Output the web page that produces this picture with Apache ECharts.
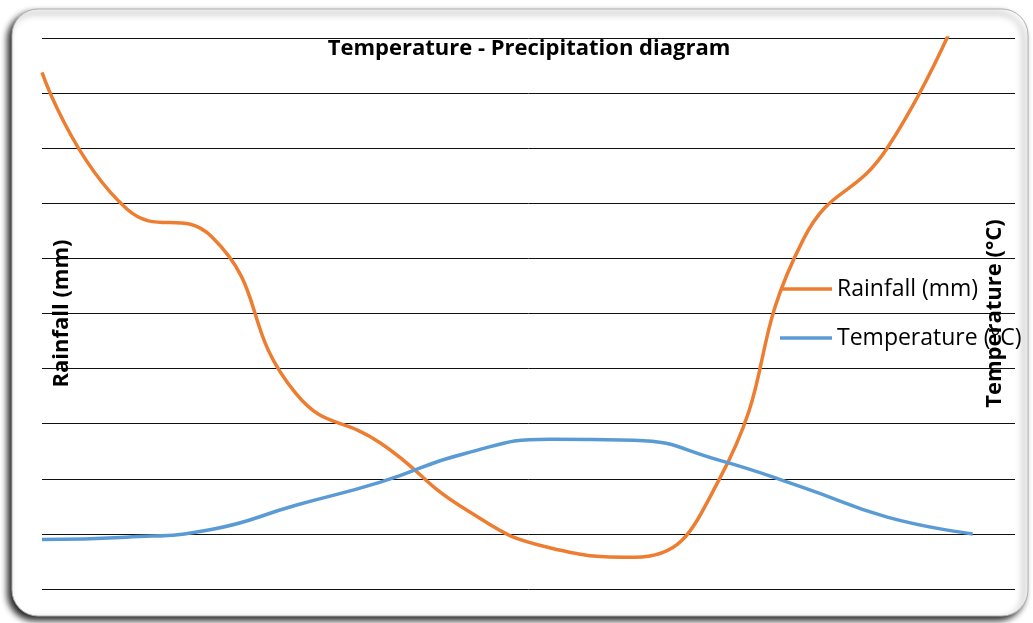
<!DOCTYPE html>
<html>
<head>
<meta charset="utf-8">
<script src="https://cdn.jsdelivr.net/npm/echarts@6/dist/echarts.min.js"></script>
<style>
  html, body { margin: 0; padding: 0; background: #fff; }
  #main { width: 1033px; height: 623px; }
</style>
</head>
<body>
<div id="main"></div>
<script>
// months, one point each (x axis is hidden)
var months = ['Jan', 'Feb', 'Mar', 'Apr', 'May', 'Jun', 'Jul', 'Aug', 'Sep', 'Oct', 'Nov', 'Dec'];
// rainfall in mm (left axis, 0-200)
var rainfall = [187.5, 138, 128, 71, 53, 29, 15, 11.5, 39.5, 127, 160.5, 222];
// temperature in degC (right axis, 0-50)
var temperature = [4.5, 4.7, 5.4, 7.6, 9.7, 12.3, 13.6, 13.5, 11.7, 9.2, 6.5, 5.0];

var font = '"Open Sans", "Noto Sans", sans-serif';

function pairs(arr) {
  return arr.map(function (v, i) { return [i, v]; });
}

var myChart = echarts.init(document.getElementById('main'));
myChart.setOption({
  animation: false,
  backgroundColor: '#fff',
  graphic: {
    elements: [{
      type: 'rect',
      z: -10,
      shape: { x: 12, y: 9, width: 1016, height: 607, r: 26 },
      style: {
        fill: '#fff',
        stroke: '#b0b0b0',
        lineWidth: 1,
        shadowBlur: 6,
        shadowOffsetX: -4,
        shadowOffsetY: 4,
        shadowColor: 'rgba(0,0,0,0.85)'
      }
    }]
  },
  title: {
    text: 'Temperature - Precipitation diagram',
    left: 524,
    top: 33,
    textAlign: 'center',
    textStyle: { fontFamily: font, fontSize: 22, fontWeight: 'bold', color: '#000' }
  },
  legend: {
    orient: 'vertical',
    left: 780,
    top: 275,
    padding: 0,
    icon: 'rect',
    itemWidth: 52,
    itemHeight: 3.5,
    itemGap: 21,
    textStyle: { fontFamily: font, fontSize: 23, lineHeight: 28, color: '#000' },
    data: ['Rainfall (mm)', 'Temperature (°C)']
  },
  grid: { left: 42, top: 38, right: 18, bottom: 34 },
  xAxis: {
    type: 'value',
    min: 0,
    max: 11.5,
    show: false
  },
  yAxis: [{
    type: 'value',
    min: 0,
    max: 200,
    interval: 20,
    name: 'Rainfall (mm)',
    nameLocation: 'middle',
    nameRotate: 90,
    nameGap: -31,
    nameTextStyle: { fontFamily: font, fontSize: 22, fontWeight: 'bold', color: '#000' },
    axisLine: { show: false },
    axisTick: { show: false },
    axisLabel: { show: false },
    splitLine: { lineStyle: { color: '#111', width: 1 } }
  }, {
    type: 'value',
    min: 0,
    max: 50,
    interval: 5,
    name: 'Temperature (°C)',
    nameLocation: 'middle',
    nameRotate: 90,
    nameGap: -31,
    nameTextStyle: { fontFamily: font, fontSize: 22, fontWeight: 'bold', color: '#000' },
    axisLine: { show: false },
    axisTick: { show: false },
    axisLabel: { show: false },
    splitLine: { show: false }
  }],
  series: [{
    name: 'Rainfall (mm)',
    type: 'line',
    yAxisIndex: 0,
    smooth: 0.5,
    symbol: 'none',
    clip: true,
    lineStyle: { color: '#ED7D31', width: 3.5 },
    itemStyle: { color: '#ED7D31' },
    data: pairs(rainfall)
  }, {
    name: 'Temperature (°C)',
    type: 'line',
    yAxisIndex: 1,
    smooth: 0.5,
    symbol: 'none',
    lineStyle: { color: '#5B9BD5', width: 3.5 },
    itemStyle: { color: '#5B9BD5' },
    data: pairs(temperature)
  }]
});
</script>
</body>
</html>
